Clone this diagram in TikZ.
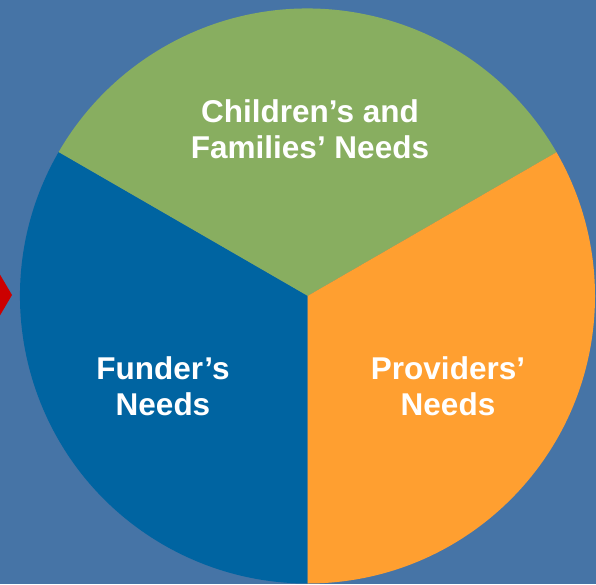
\documentclass[tikz,border=0pt]{standalone}
\usepackage{fontspec}
\setmainfont{Liberation Sans}
\definecolor{bgblue}{HTML}{4674A6}
\definecolor{pgreen}{HTML}{88AE60}
\definecolor{pblue}{HTML}{0064A1}
\definecolor{porange}{HTML}{FF9F30}
\definecolor{pred}{HTML}{CC0000}
\begin{document}
\begin{tikzpicture}[x=1pt,y=1pt,
  lbl/.style={text=white,align=center,inner sep=0pt,font=\fontsize{31.5}{36}\selectfont\bfseries}]
\useasboundingbox (0,0) rectangle (596,584);
\fill[bgblue] (0,0) rectangle (596,584);
\coordinate (c) at (307.5,288);
\def\R{287.5}
\fill[pgreen] (c) -- ++(30:\R) arc[start angle=30,end angle=150,radius=\R] -- cycle;
\fill[pblue] (c) -- ++(150:\R) arc[start angle=150,end angle=270,radius=\R] -- cycle;
\fill[porange] (c) -- ++(270:\R) arc[start angle=270,end angle=390,radius=\R] -- cycle;
\fill[pred] (-8,323) -- (12,289) -- (-8,255) -- cycle;
\node[lbl] (kids) at (310,455) {Children’s and\\Families’ Needs};
\node[lbl] (funder) at (163,198) {Funder’s\\Needs};
\node[lbl] (prov) at (448,198) {Providers’\\Needs};
\end{tikzpicture}
\end{document}
